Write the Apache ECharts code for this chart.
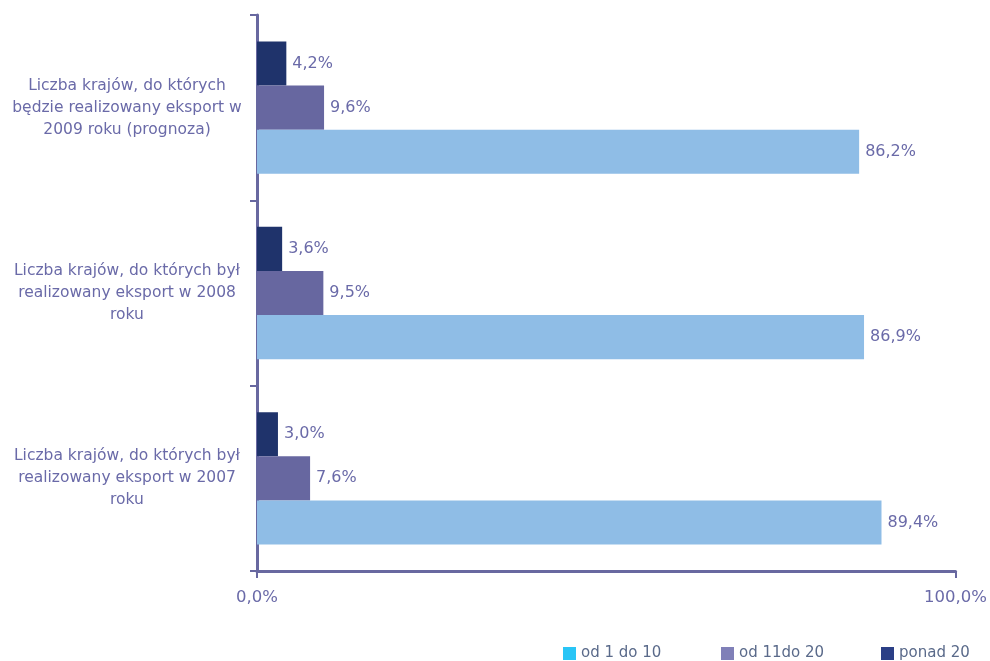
<!DOCTYPE html>
<html>
<head>
<meta charset="utf-8">
<script src="https://cdn.jsdelivr.net/npm/echarts@6/dist/echarts.min.js"></script>
<style>
  html, body { margin: 0; padding: 0; background: #ffffff; }
  #chart { width: 990px; height: 661px; }
</style>
</head>
<body>
<div id="chart"></div>
<script>
// Categories, bottom to top along the y axis
const categories = [
  'Liczba krajów, do których był\nrealizowany eksport w 2007\nroku',
  'Liczba krajów, do których był\nrealizowany eksport w 2008\nroku',
  'Liczba krajów, do których\nbędzie realizowany eksport w\n2009 roku (prognoza)'
];

const seriesNames = ['od 1 do 10', 'od 11do 20', 'ponad 20'];

// Shares (%) per category: 2007, 2008, 2009
const od1do10 = [89.4, 86.9, 86.2];
const od11do20 = [7.6, 9.5, 9.6];
const ponad20 = [3.0, 3.6, 4.2];

const xTicks = [0, 100];

const barColors = ['#8FBDE6', '#6767A0', '#1F336B'];
const legendColors = ['#29C5F6', '#8080B8', '#2B3F86'];

const axisColor = '#6868A0';
const textColor = '#6A6AA8';
const fontFamily = '"DejaVu Sans", sans-serif';

const fmt = v => v.toFixed(1).replace('.', ',') + '%';

const chart = echarts.init(document.getElementById('chart'));

const values = [od1do10, od11do20, ponad20];
const legendLefts = [563, 721, 881];

// Within each band the first series is drawn on top, so the series are
// added from "ponad 20" down to "od 1 do 10".
const drawOrder = [2, 1, 0];

chart.setOption({
  animation: false,
  textStyle: { fontFamily: fontFamily },
  grid: { left: 257, right: 34, top: 15, bottom: 90, containLabel: false },
  legend: seriesNames.map((name, i) => ({
    data: [{ name: name, itemStyle: { color: legendColors[i] } }],
    left: legendLefts[i],
    top: 646,
    itemWidth: 13,
    itemHeight: 13,
    itemGap: 6,
    icon: 'rect',
    padding: 0,
    selectedMode: false,
    textStyle: { color: '#5A6A8A', fontSize: 15, fontFamily: fontFamily }
  })),
  xAxis: {
    type: 'value',
    min: xTicks[0],
    max: xTicks[xTicks.length - 1],
    interval: 100,
    splitLine: { show: false },
    axisLine: { show: true, lineStyle: { color: axisColor, width: 3 } },
    axisTick: { show: true, length: 7, lineStyle: { color: axisColor, width: 2 } },
    axisLabel: {
      color: textColor,
      fontSize: 16.5,
      margin: 18,
      formatter: v => fmt(v)
    }
  },
  yAxis: {
    type: 'category',
    data: categories,
    axisLine: { show: true, lineStyle: { color: axisColor, width: 3 } },
    axisTick: { show: true, length: 7, lineStyle: { color: axisColor, width: 2 } },
    axisLabel: {
      color: textColor,
      fontSize: 15.5,
      lineHeight: 22,
      align: 'center',
      margin: 130
    }
  },
  series: drawOrder.map(i => ({
    name: seriesNames[i],
    type: 'bar',
    data: values[i],
    barGap: '0%',
    barCategoryGap: '28.6%',
    itemStyle: { color: barColors[i] },
    label: {
      show: true,
      position: 'right',
      distance: 6,
      color: textColor,
      fontSize: 16,
      formatter: p => fmt(p.value)
    }
  }))
});
</script>
</body>
</html>
